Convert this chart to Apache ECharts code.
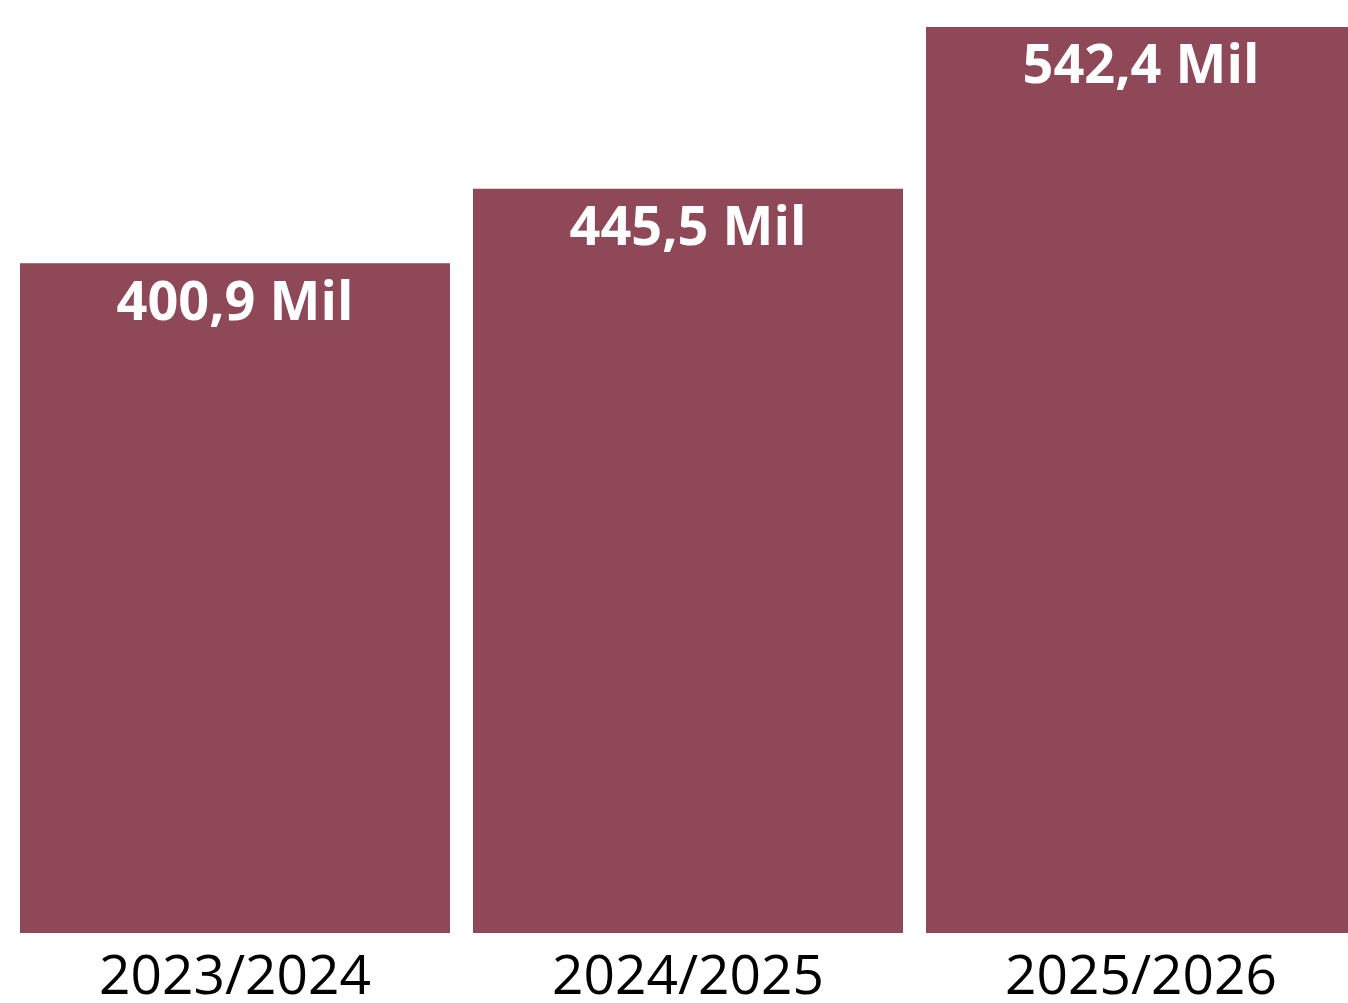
<!DOCTYPE html>
<html>
<head>
<meta charset="utf-8">
<style>
  html, body { margin: 0; padding: 0; background: #fff; }
  #chart { width: 1348px; height: 1003px; }
</style>
<script src="https://cdn.jsdelivr.net/npm/echarts@6/dist/echarts.min.js"></script>
</head>
<body>
<div id="chart"></div>
<script>
// Seasons and totals (thousands)
const seasons = ['2023/2024', '2024/2025', '2025/2026'];
const totals = [400.9, 445.5, 542.4];

const chart = echarts.init(document.getElementById('chart'));
chart.setOption({
  animation: false,
  grid: { left: 8.5, top: 27, width: 1359, bottom: 70, outerBoundsMode: 'none', containLabel: false },
  xAxis: {
    type: 'category',
    data: seasons,
    axisLine: { show: false },
    axisTick: { show: false },
    axisLabel: {
      color: '#000',
      fontFamily: 'Open Sans',
      fontSize: 55,
      margin: 18
    }
  },
  yAxis: {
    type: 'value',
    min: 0,
    max: 542.4,
    show: false
  },
  series: [{
    type: 'bar',
    data: totals,
    barWidth: 430,
    itemStyle: { color: '#8E4858' },
    label: {
      show: true,
      position: 'insideTop',
      distance: 14,
      color: '#fff',
      fontFamily: 'Open Sans',
      fontWeight: 'bold',
      fontSize: 54,
      formatter: p => p.value.toFixed(1).replace('.', ',') + ' Mil'
    }
  }]
});
</script>
</body>
</html>
